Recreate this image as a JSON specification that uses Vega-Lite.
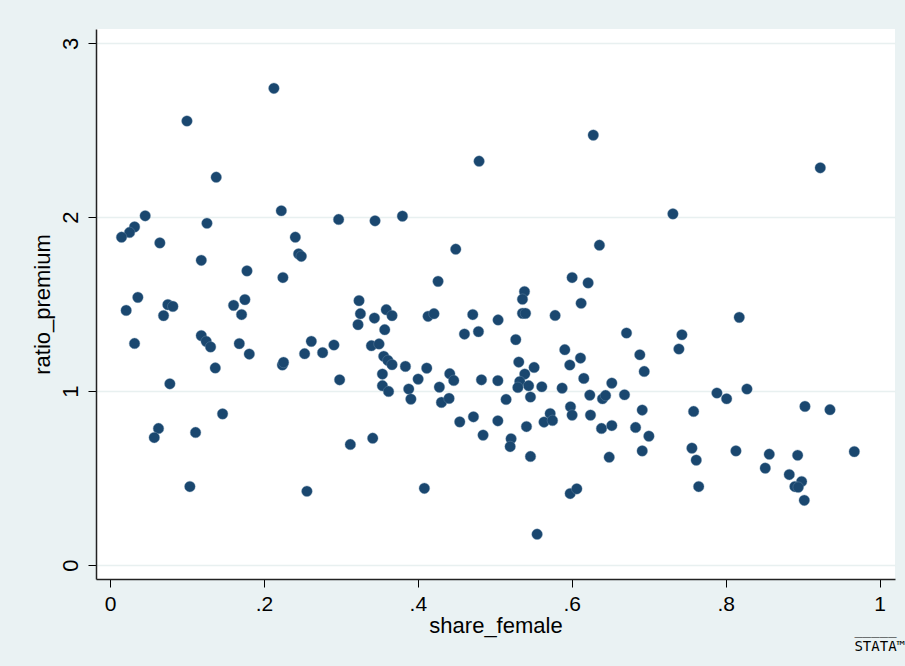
{
  "$schema": "https://vega.github.io/schema/vega-lite/v6.json",
  "width": 799,
  "height": 550,
  "autosize": "none",
  "padding": {"left": 96, "top": 29, "right": 10, "bottom": 87},
  "background": "#eaf2f3",
  "view": {"fill": "white", "stroke": null},
  "title": {"text": "S̅T̅A̅T̅A̅™", "orient": "bottom", "anchor": "end", "font": "DejaVu Sans Mono", "fontSize": 14, "fontWeight": "normal", "color": "#000000", "offset": 4, "dx": 10},
  "data": {"values": [
    {"share_female": 0.213, "ratio_premium": 2.741},
    {"share_female": 0.100, "ratio_premium": 2.553},
    {"share_female": 0.138, "ratio_premium": 2.230},
    {"share_female": 0.2226, "ratio_premium": 2.037},
    {"share_female": 0.0457, "ratio_premium": 2.008},
    {"share_female": 0.0319, "ratio_premium": 1.944},
    {"share_female": 0.0254, "ratio_premium": 1.912},
    {"share_female": 0.015, "ratio_premium": 1.885},
    {"share_female": 0.126, "ratio_premium": 1.965},
    {"share_female": 0.0648, "ratio_premium": 1.852},
    {"share_female": 0.2408, "ratio_premium": 1.885},
    {"share_female": 0.2451, "ratio_premium": 1.789},
    {"share_female": 0.2486, "ratio_premium": 1.775},
    {"share_female": 0.1186, "ratio_premium": 1.752},
    {"share_female": 0.178, "ratio_premium": 1.691},
    {"share_female": 0.2247, "ratio_premium": 1.653},
    {"share_female": 0.0362, "ratio_premium": 1.539},
    {"share_female": 0.021, "ratio_premium": 1.464},
    {"share_female": 0.0752, "ratio_premium": 1.497},
    {"share_female": 0.0817, "ratio_premium": 1.487},
    {"share_female": 0.0696, "ratio_premium": 1.434},
    {"share_female": 0.1606, "ratio_premium": 1.493},
    {"share_female": 0.1753, "ratio_premium": 1.526},
    {"share_female": 0.171, "ratio_premium": 1.44},
    {"share_female": 0.0319, "ratio_premium": 1.274},
    {"share_female": 0.1186, "ratio_premium": 1.319},
    {"share_female": 0.125, "ratio_premium": 1.286},
    {"share_female": 0.1307, "ratio_premium": 1.254},
    {"share_female": 0.168, "ratio_premium": 1.273},
    {"share_female": 0.181, "ratio_premium": 1.213},
    {"share_female": 0.1368, "ratio_premium": 1.133},
    {"share_female": 0.224, "ratio_premium": 1.150},
    {"share_female": 0.2255, "ratio_premium": 1.165},
    {"share_female": 0.0778, "ratio_premium": 1.042},
    {"share_female": 0.1463, "ratio_premium": 0.869},
    {"share_female": 0.063, "ratio_premium": 0.785},
    {"share_female": 0.0575, "ratio_premium": 0.733},
    {"share_female": 0.1112, "ratio_premium": 0.762},
    {"share_female": 0.1038, "ratio_premium": 0.451},
    {"share_female": 0.4796, "ratio_premium": 2.322},
    {"share_female": 0.2971, "ratio_premium": 1.987},
    {"share_female": 0.3444, "ratio_premium": 1.979},
    {"share_female": 0.380, "ratio_premium": 2.006},
    {"share_female": 0.4493, "ratio_premium": 1.816},
    {"share_female": 0.4263, "ratio_premium": 1.631},
    {"share_female": 0.3236, "ratio_premium": 1.520},
    {"share_female": 0.3254, "ratio_premium": 1.445},
    {"share_female": 0.3436, "ratio_premium": 1.420},
    {"share_female": 0.359, "ratio_premium": 1.468},
    {"share_female": 0.3665, "ratio_premium": 1.434},
    {"share_female": 0.4133, "ratio_premium": 1.430},
    {"share_female": 0.421, "ratio_premium": 1.445},
    {"share_female": 0.4714, "ratio_premium": 1.440},
    {"share_female": 0.5043, "ratio_premium": 1.409},
    {"share_female": 0.3223, "ratio_premium": 1.382},
    {"share_female": 0.357, "ratio_premium": 1.353},
    {"share_female": 0.4606, "ratio_premium": 1.328},
    {"share_female": 0.4788, "ratio_premium": 1.342},
    {"share_female": 0.2616, "ratio_premium": 1.286},
    {"share_female": 0.2529, "ratio_premium": 1.215},
    {"share_female": 0.2763, "ratio_premium": 1.221},
    {"share_female": 0.291, "ratio_premium": 1.265},
    {"share_female": 0.3397, "ratio_premium": 1.261},
    {"share_female": 0.3496, "ratio_premium": 1.271},
    {"share_female": 0.3557, "ratio_premium": 1.200},
    {"share_female": 0.3612, "ratio_premium": 1.176},
    {"share_female": 0.3665, "ratio_premium": 1.152},
    {"share_female": 0.3839, "ratio_premium": 1.142},
    {"share_female": 0.4116, "ratio_premium": 1.132},
    {"share_female": 0.2984, "ratio_premium": 1.065},
    {"share_female": 0.354, "ratio_premium": 1.098},
    {"share_female": 0.354, "ratio_premium": 1.031},
    {"share_female": 0.362, "ratio_premium": 0.998},
    {"share_female": 0.4004, "ratio_premium": 1.069},
    {"share_female": 0.3882, "ratio_premium": 1.012},
    {"share_female": 0.391, "ratio_premium": 0.954},
    {"share_female": 0.4415, "ratio_premium": 1.100},
    {"share_female": 0.4467, "ratio_premium": 1.061},
    {"share_female": 0.428, "ratio_premium": 1.023},
    {"share_female": 0.4307, "ratio_premium": 0.935},
    {"share_female": 0.4406, "ratio_premium": 0.958},
    {"share_female": 0.4827, "ratio_premium": 1.065},
    {"share_female": 0.504, "ratio_premium": 1.060},
    {"share_female": 0.4545, "ratio_premium": 0.823},
    {"share_female": 0.4723, "ratio_premium": 0.852},
    {"share_female": 0.4848, "ratio_premium": 0.747},
    {"share_female": 0.504, "ratio_premium": 0.829},
    {"share_female": 0.3123, "ratio_premium": 0.693},
    {"share_female": 0.3414, "ratio_premium": 0.729},
    {"share_female": 0.2559, "ratio_premium": 0.424},
    {"share_female": 0.4085, "ratio_premium": 0.441},
    {"share_female": 0.628, "ratio_premium": 2.472},
    {"share_female": 0.7315, "ratio_premium": 2.019},
    {"share_female": 0.636, "ratio_premium": 1.839},
    {"share_female": 0.6005, "ratio_premium": 1.653},
    {"share_female": 0.6213, "ratio_premium": 1.622},
    {"share_female": 0.5386, "ratio_premium": 1.572},
    {"share_female": 0.536, "ratio_premium": 1.528},
    {"share_female": 0.6122, "ratio_premium": 1.505},
    {"share_female": 0.536, "ratio_premium": 1.447},
    {"share_female": 0.540, "ratio_premium": 1.447},
    {"share_female": 0.5784, "ratio_premium": 1.435},
    {"share_female": 0.5273, "ratio_premium": 1.296},
    {"share_female": 0.6712, "ratio_premium": 1.334},
    {"share_female": 0.7432, "ratio_premium": 1.324},
    {"share_female": 0.7393, "ratio_premium": 1.242},
    {"share_female": 0.591, "ratio_premium": 1.238},
    {"share_female": 0.6114, "ratio_premium": 1.190},
    {"share_female": 0.6885, "ratio_premium": 1.209},
    {"share_female": 0.5975, "ratio_premium": 1.150},
    {"share_female": 0.6942, "ratio_premium": 1.113},
    {"share_female": 0.5312, "ratio_premium": 1.167},
    {"share_female": 0.5511, "ratio_premium": 1.136},
    {"share_female": 0.539, "ratio_premium": 1.098},
    {"share_female": 0.5325, "ratio_premium": 1.055},
    {"share_female": 0.530, "ratio_premium": 1.021},
    {"share_female": 0.544, "ratio_premium": 1.031},
    {"share_female": 0.5611, "ratio_premium": 1.025},
    {"share_female": 0.5875, "ratio_premium": 1.017},
    {"share_female": 0.6157, "ratio_premium": 1.073},
    {"share_female": 0.6521, "ratio_premium": 1.046},
    {"share_female": 0.6235, "ratio_premium": 0.977},
    {"share_female": 0.640, "ratio_premium": 0.956},
    {"share_female": 0.644, "ratio_premium": 0.975},
    {"share_female": 0.6686, "ratio_premium": 0.979},
    {"share_female": 0.5147, "ratio_premium": 0.952},
    {"share_female": 0.5464, "ratio_premium": 0.966},
    {"share_female": 0.5412, "ratio_premium": 0.796},
    {"share_female": 0.5984, "ratio_premium": 0.910},
    {"share_female": 0.6005, "ratio_premium": 0.862},
    {"share_female": 0.572, "ratio_premium": 0.871},
    {"share_female": 0.564, "ratio_premium": 0.822},
    {"share_female": 0.575, "ratio_premium": 0.831},
    {"share_female": 0.6244, "ratio_premium": 0.862},
    {"share_female": 0.6387, "ratio_premium": 0.785},
    {"share_female": 0.6521, "ratio_premium": 0.802},
    {"share_female": 0.6916, "ratio_premium": 0.891},
    {"share_female": 0.683, "ratio_premium": 0.791},
    {"share_female": 0.7003, "ratio_premium": 0.741},
    {"share_female": 0.7584, "ratio_premium": 0.883},
    {"share_female": 0.5212, "ratio_premium": 0.726},
    {"share_female": 0.520, "ratio_premium": 0.681},
    {"share_female": 0.5464, "ratio_premium": 0.624},
    {"share_female": 0.6487, "ratio_premium": 0.620},
    {"share_female": 0.6916, "ratio_premium": 0.656},
    {"share_female": 0.7562, "ratio_premium": 0.672},
    {"share_female": 0.7618, "ratio_premium": 0.603},
    {"share_female": 0.765, "ratio_premium": 0.451},
    {"share_female": 0.598, "ratio_premium": 0.411},
    {"share_female": 0.6066, "ratio_premium": 0.438},
    {"share_female": 0.555, "ratio_premium": 0.177},
    {"share_female": 0.923, "ratio_premium": 2.284},
    {"share_female": 0.8177, "ratio_premium": 1.424},
    {"share_female": 0.7887, "ratio_premium": 0.989},
    {"share_female": 0.8013, "ratio_premium": 0.956},
    {"share_female": 0.8277, "ratio_premium": 1.012},
    {"share_female": 0.9031, "ratio_premium": 0.912},
    {"share_female": 0.9356, "ratio_premium": 0.893},
    {"share_female": 0.8134, "ratio_premium": 0.656},
    {"share_female": 0.8567, "ratio_premium": 0.637},
    {"share_female": 0.8515, "ratio_premium": 0.557},
    {"share_female": 0.8936, "ratio_premium": 0.631},
    {"share_female": 0.9672, "ratio_premium": 0.652},
    {"share_female": 0.8827, "ratio_premium": 0.520},
    {"share_female": 0.8988, "ratio_premium": 0.480},
    {"share_female": 0.890, "ratio_premium": 0.451},
    {"share_female": 0.8944, "ratio_premium": 0.447},
    {"share_female": 0.9022, "ratio_premium": 0.372}
  ]},
  "mark": {"type": "point", "filled": true, "shape": "circle", "size": 115, "color": "#1a476f", "opacity": 1, "stroke": "#6f8fab", "strokeWidth": 0.4},
  "encoding": {
    "x": {
      "field": "share_female", "type": "quantitative",
      "scale": {"domain": [-0.0182, 1.0201], "nice": false, "zero": false},
      "axis": {
        "title": "share_female", "values": [0, 0.2, 0.4, 0.6, 0.8, 1],
        "labelExpr": "datum.value == 0 || datum.value == 1 ? format(datum.value, 'd') : '.' + format(datum.value * 10, 'd')",
        "grid": false, "domainColor": "#222222", "domainWidth": 1.5,
        "tickColor": "#000000", "tickSize": 8, "tickWidth": 1,
        "labelFont": "Liberation Sans", "labelFontSize": 21, "labelColor": "#000000", "labelPadding": 6,
        "titleFont": "Liberation Sans", "titleFontSize": 22, "titleFontWeight": "normal", "titleColor": "#000000", "titlePadding": 1
      }
    },
    "y": {
      "field": "ratio_premium", "type": "quantitative",
      "scale": {"domain": [-0.0805, 3.082], "nice": false, "zero": false},
      "axis": {
        "title": "ratio_premium", "values": [0, 1, 2, 3],
        "grid": true, "gridColor": "#e8f0f0", "gridWidth": 1.5,
        "domainColor": "#222222", "domainWidth": 1.5,
        "tickColor": "#000000", "tickSize": 8, "tickWidth": 1,
        "labelAngle": -90, "labelAlign": "center", "labelBaseline": "bottom",
        "labelFont": "Liberation Sans", "labelFontSize": 22, "labelColor": "#000000", "labelPadding": 6,
        "titleFont": "Liberation Sans", "titleFontSize": 22, "titleFontWeight": "normal", "titleColor": "#000000", "titlePadding": 5
      }
    }
  }
}
